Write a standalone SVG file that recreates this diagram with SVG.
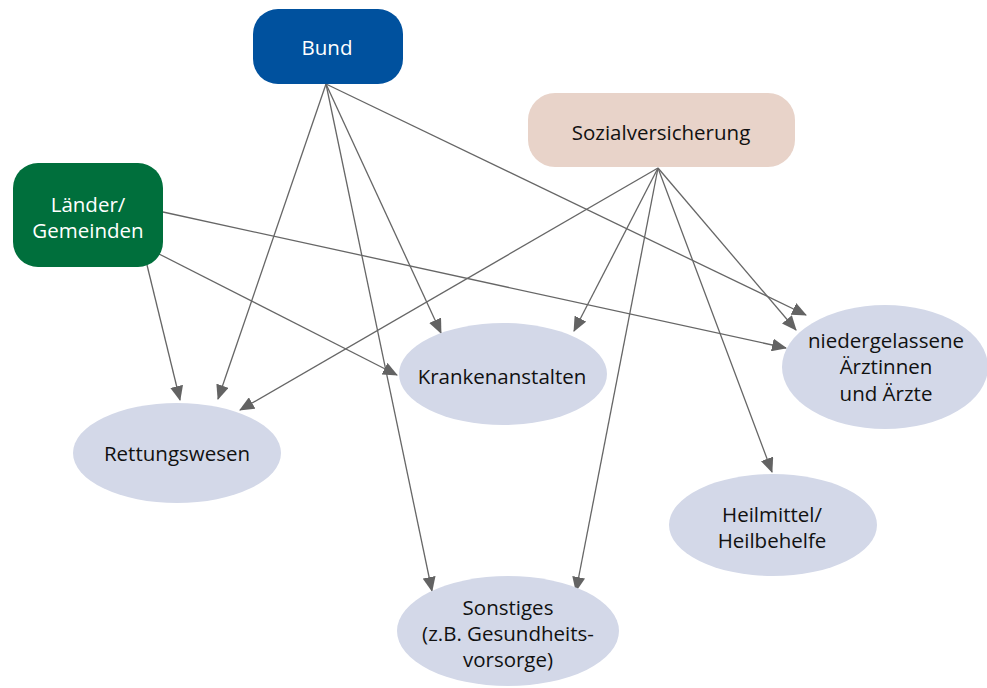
<svg xmlns="http://www.w3.org/2000/svg" width="987" height="688" viewBox="0 0 987 688">
<defs>
<marker id="ah" markerWidth="15" markerHeight="13" refX="14" refY="6.5" orient="auto" markerUnits="userSpaceOnUse">
<path d="M0,0 L15,6.5 L0,13 Z" fill="#636363"/>
</marker>
<style>
.t{font-family:"Open Sans","Liberation Sans",Arial,sans-serif;font-size:20.5px;text-anchor:middle}
.w{fill:#ffffff}
.k{fill:#111111}
.e{fill:#d3d8e8}
.c line{stroke:#666666;stroke-width:1.3;marker-end:url(#ah)}
</style>
</defs>
<rect width="987" height="688" fill="#ffffff"/>
<g id="connectors" class="c">
<line x1="326" y1="84" x2="218" y2="399"/>
<line x1="326" y1="84" x2="432" y2="591"/>
<line x1="326" y1="84" x2="441" y2="333"/>
<line x1="326" y1="84" x2="806" y2="315"/>
<line x1="147" y1="265" x2="180" y2="400"/>
<line x1="159" y1="254" x2="397" y2="375"/>
<line x1="163" y1="212" x2="786" y2="348"/>
<line x1="658" y1="168" x2="240" y2="410"/>
<line x1="658" y1="168" x2="574" y2="331"/>
<line x1="658" y1="168" x2="796" y2="330"/>
<line x1="658" y1="168" x2="772" y2="472"/>
<line x1="658" y1="168" x2="576" y2="591"/>
</g>
<g id="bund">
<rect x="253" y="9" width="150" height="75" rx="25" fill="#00519e"/>
<text class="t w" x="327" y="55">Bund</text>
</g>
<g id="laender">
<rect x="13" y="163" width="150" height="104" rx="25" fill="#006f3c"/>
<text class="t w" x="88" y="212">Länder/</text>
<text class="t w" x="88" y="238">Gemeinden</text>
</g>
<g id="sozialversicherung">
<rect x="528" y="93" width="267" height="74" rx="27" fill="#e8d3c9"/>
<text class="t k" x="661" y="140">Sozialversicherung</text>
</g>
<g id="rettungswesen">
<ellipse class="e" cx="177" cy="453" rx="104" ry="50"/>
<text class="t k" x="177" y="461">Rettungswesen</text>
</g>
<g id="krankenanstalten">
<ellipse class="e" cx="503" cy="374" rx="104" ry="51"/>
<text class="t k" x="502" y="384">Krankenanstalten</text>
</g>
<g id="niedergelassene">
<ellipse class="e" cx="885" cy="367" rx="103" ry="62"/>
<text class="t k" x="886" y="348">niedergelassene</text>
<text class="t k" x="886" y="374">Ärztinnen</text>
<text class="t k" x="886" y="401">und Ärzte</text>
</g>
<g id="heilmittel">
<ellipse class="e" cx="773" cy="525" rx="104" ry="51"/>
<text class="t k" x="772" y="522">Heilmittel/</text>
<text class="t k" x="772" y="548">Heilbehelfe</text>
</g>
<g id="sonstiges">
<ellipse class="e" cx="508" cy="631" rx="111" ry="55"/>
<text class="t k" x="508" y="615">Sonstiges</text>
<text class="t k" x="508" y="641">(z.B. Gesundheits-</text>
<text class="t k" x="508" y="667">vorsorge)</text>
</g>
</svg>
